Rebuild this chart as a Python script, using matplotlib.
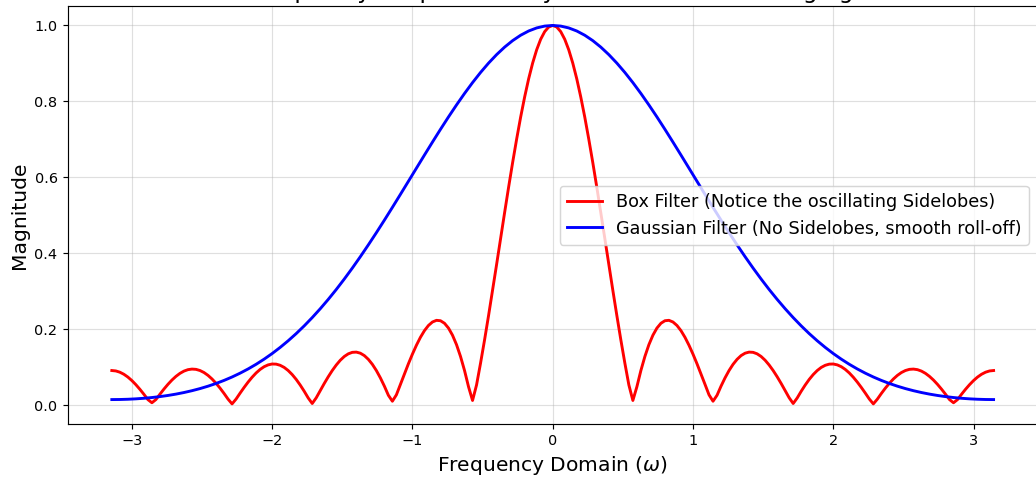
import matplotlib
matplotlib.use("Agg")
import matplotlib.pyplot as plt

# ---- Box filter magnitude response ----
omega_box = [
    -3.1416, -3.1130, -3.0845, -3.0559, -3.0274, -2.9988, -2.9702, -2.9417, -2.9131, -2.8846,
    -2.8560, -2.8274, -2.7989, -2.7703, -2.7418, -2.7132, -2.6846, -2.6561, -2.6275, -2.5990,
    -2.5704, -2.5418, -2.5133, -2.4847, -2.4562, -2.4276, -2.3990, -2.3705, -2.3419, -2.3134,
    -2.2848, -2.2562, -2.2277, -2.1991, -2.1706, -2.1420, -2.1134, -2.0849, -2.0563, -2.0278,
    -1.9992, -1.9706, -1.9421, -1.9135, -1.8850, -1.8564, -1.8278, -1.7993, -1.7707, -1.7422,
    -1.7136, -1.6850, -1.6565, -1.6279, -1.5994, -1.5708, -1.5422, -1.5137, -1.4851, -1.4566,
    -1.4280, -1.3994, -1.3709, -1.3423, -1.3138, -1.2852, -1.2566, -1.2281, -1.1995, -1.1710,
    -1.1424, -1.1138, -1.0853, -1.0567, -1.0282, -0.9996, -0.9710, -0.9425, -0.9139, -0.8854,
    -0.8568, -0.8282, -0.7997, -0.7711, -0.7426, -0.7140, -0.6854, -0.6569, -0.6283, -0.5998,
    -0.5712, -0.5426, -0.5141, -0.4855, -0.4570, -0.4284, -0.3998, -0.3713, -0.3427, -0.3142,
    -0.2856, -0.2570, -0.2285, -0.1999, -0.1714, -0.1428, -0.1142, -0.0857, -0.0571, -0.0286,
    0.0,
    0.0286, 0.0571, 0.0857, 0.1142, 0.1428, 0.1714, 0.1999, 0.2285, 0.2570, 0.2856,
    0.3142, 0.3427, 0.3713, 0.3998, 0.4284, 0.4570, 0.4855, 0.5141, 0.5426, 0.5712,
    0.5998, 0.6283, 0.6569, 0.6854, 0.7140, 0.7426, 0.7711, 0.7997, 0.8282, 0.8568,
    0.8854, 0.9139, 0.9425, 0.9710, 0.9996, 1.0282, 1.0567, 1.0853, 1.1138, 1.1424,
    1.1710, 1.1995, 1.2281, 1.2566, 1.2852, 1.3138, 1.3423, 1.3709, 1.3994, 1.4280,
    1.4566, 1.4851, 1.5137, 1.5422, 1.5708, 1.5994, 1.6279, 1.6565, 1.6850, 1.7136,
    1.7422, 1.7707, 1.7993, 1.8278, 1.8564, 1.8850, 1.9135, 1.9421, 1.9706, 1.9992,
    2.0278, 2.0563, 2.0849, 2.1134, 2.1420, 2.1706, 2.1991, 2.2277, 2.2562, 2.2848,
    2.3134, 2.3419, 2.3705, 2.3990, 2.4276, 2.4562, 2.4847, 2.5133, 2.5418, 2.5704,
    2.5990, 2.6275, 2.6561, 2.6846, 2.7132, 2.7418, 2.7703, 2.7989, 2.8274, 2.8560,
    2.8846, 2.9131, 2.9417, 2.9702, 2.9988, 3.0274, 3.0559, 3.0845, 3.1130, 3.1416,
]
box_mag = [
    0.0909, 0.08980, 0.0865, 0.08108, 0.0737, 0.06445, 0.0536, 0.04148, 0.0283, 0.01434,
    0.006, 0.01440, 0.0285, 0.04199, 0.0545, 0.06579, 0.0755, 0.08345, 0.0894, 0.09320,
    0.0947, 0.09398, 0.0909, 0.08558, 0.0781, 0.06861, 0.0573, 0.04454, 0.0305, 0.01553,
    0.003, 0.01574, 0.0313, 0.04632, 0.0604, 0.07324, 0.0845, 0.09379, 0.1010, 0.10577,
    0.1081, 0.10773, 0.1047, 0.09910, 0.0909, 0.08030, 0.0675, 0.05270, 0.0363, 0.01859,
    0.004, 0.01906, 0.0381, 0.05677, 0.0745, 0.09091, 0.1055, 0.11797, 0.1279, 0.13490,
    0.1388, 0.13942, 0.1366, 0.13025, 0.1204, 0.10727, 0.0909, 0.07163, 0.0498, 0.02574,
    0.010, 0.02690, 0.0544, 0.08187, 0.1087, 0.13413, 0.1576, 0.17842, 0.1960, 0.20961,
    0.2188, 0.22314, 0.2221, 0.21538, 0.2027, 0.18394, 0.1590, 0.12795, 0.0909, 0.04814,
    0.012, 0.05306, 0.1105, 0.17169, 0.2359, 0.30241, 0.3703, 0.43885, 0.5070, 0.57398,
    0.6388, 0.70056, 0.7585, 0.81168, 0.8595, 0.90108, 0.9360, 0.96369, 0.9838, 0.99596,
    1.0,
    0.99596, 0.9838, 0.96369, 0.9360, 0.90108, 0.8595, 0.81168, 0.7585, 0.70056, 0.6388,
    0.57398, 0.5070, 0.43885, 0.3703, 0.30241, 0.2359, 0.17169, 0.1105, 0.05306, 0.012,
    0.04814, 0.0909, 0.12795, 0.1590, 0.18394, 0.2027, 0.21538, 0.2221, 0.22314, 0.2188,
    0.20961, 0.1960, 0.17842, 0.1576, 0.13413, 0.1087, 0.08187, 0.0544, 0.02690, 0.010,
    0.02574, 0.0498, 0.07163, 0.0909, 0.10727, 0.1204, 0.13025, 0.1366, 0.13942, 0.1388,
    0.13490, 0.1279, 0.11797, 0.1055, 0.09091, 0.0745, 0.05677, 0.0381, 0.01906, 0.004,
    0.01859, 0.0363, 0.05270, 0.0675, 0.08030, 0.0909, 0.09910, 0.1047, 0.10773, 0.1081,
    0.10577, 0.1010, 0.09379, 0.0845, 0.07324, 0.0604, 0.04632, 0.0313, 0.01574, 0.003,
    0.01553, 0.0305, 0.04454, 0.0573, 0.06861, 0.0781, 0.08558, 0.0909, 0.09398, 0.0947,
    0.09320, 0.0894, 0.08345, 0.0755, 0.06579, 0.0545, 0.04199, 0.0285, 0.01440, 0.006,
    0.01434, 0.0283, 0.04148, 0.0536, 0.06445, 0.0737, 0.08108, 0.0865, 0.08980, 0.0909,
]

# ---- Gaussian filter magnitude response ----
omega_gauss = [
    -3.1416, -3.0845, -3.0274, -2.9702, -2.9131, -2.8560, -2.7989, -2.7418, -2.6846, -2.6275,
    -2.5704, -2.5133, -2.4562, -2.3990, -2.3419, -2.2848, -2.2277, -2.1706, -2.1134, -2.0563,
    -1.9992, -1.9421, -1.8850, -1.8278, -1.7707, -1.7136, -1.6565, -1.5994, -1.5422, -1.4851,
    -1.4280, -1.3709, -1.3138, -1.2566, -1.1995, -1.1424, -1.0853, -1.0282, -0.9710, -0.9139,
    -0.8568, -0.7997, -0.7426, -0.6854, -0.6283, -0.5712, -0.5141, -0.4570, -0.3998, -0.3427,
    -0.2856, -0.2285, -0.1714, -0.1142, -0.0571, 0.0,
    0.0571, 0.1142, 0.1714, 0.2285, 0.2856, 0.3427, 0.3998, 0.4570, 0.5141, 0.5712,
    0.6283, 0.6854, 0.7426, 0.7997, 0.8568, 0.9139, 0.9710, 1.0282, 1.0853, 1.1424,
    1.1995, 1.2566, 1.3138, 1.3709, 1.4280, 1.4851, 1.5422, 1.5994, 1.6565, 1.7136,
    1.7707, 1.8278, 1.8850, 1.9421, 1.9992, 2.0563, 2.1134, 2.1706, 2.2277, 2.2848,
    2.3419, 2.3990, 2.4562, 2.5133, 2.5704, 2.6275, 2.6846, 2.7418, 2.7989, 2.8560,
    2.9131, 2.9702, 3.0274, 3.0845, 3.1416,
]
gauss_mag = [
    0.01438, 0.01459, 0.01522, 0.01628, 0.01778,
    0.01975, 0.02222, 0.02521, 0.02877, 0.03294, 0.03777, 0.04331, 0.04964, 0.05680, 0.06485,
    0.07386, 0.08391, 0.09504, 0.10734, 0.12086, 0.13566, 0.15178, 0.16929, 0.18820, 0.20856,
    0.23037, 0.25363, 0.27834, 0.30445, 0.33195, 0.36074, 0.39076, 0.42190, 0.45404, 0.48703,
    0.52072, 0.55493, 0.58946, 0.62409, 0.65861, 0.69277, 0.72634, 0.75904, 0.79064, 0.82087,
    0.84948, 0.87622, 0.90086, 0.92318, 0.94296, 0.96004, 0.97424, 0.98543, 0.99350, 0.99837,
    1.0,
    0.99837, 0.99350, 0.98543, 0.97424, 0.96004, 0.94296, 0.92318, 0.90086, 0.87622, 0.84948,
    0.82087, 0.79064, 0.75904, 0.72634, 0.69277, 0.65861, 0.62409, 0.58946, 0.55493, 0.52072,
    0.48703, 0.45404, 0.42190, 0.39076, 0.36074, 0.33195, 0.30445, 0.27834, 0.25363, 0.23037,
    0.20856, 0.18820, 0.16929, 0.15178, 0.13566, 0.12086, 0.10734, 0.09504, 0.08391, 0.07386,
    0.06485, 0.05680, 0.04964, 0.04331, 0.03777, 0.03294, 0.02877, 0.02521, 0.02222, 0.01975,
    0.01778, 0.01628, 0.01522, 0.01459, 0.01438,
]

labels = [
    "Box Filter (Notice the oscillating Sidelobes)",
    "Gaussian Filter (No Sidelobes, smooth roll-off)",
]
title = "Frequency Response: Why Box Filters cause Ringing"

DPI = 104
fig = plt.figure(figsize=(1036 / DPI, 477 / DPI), dpi=DPI)
ax = fig.add_axes([0.06535, 0.1111, 0.9363, 0.8753])

ax.plot(omega_box, box_mag, color="red", linewidth=2, label=labels[0])
ax.plot(omega_gauss, gauss_mag, color="blue", linewidth=2, label=labels[1])

ax.set_xlim(-3.456, 3.456)
ax.set_ylim(-0.05, 1.05)
ax.set_title(title, fontsize=16)
ax.set_xlabel(r"Frequency Domain ($\omega$)", fontsize=14)
ax.set_ylabel("Magnitude", fontsize=14)
ax.grid(True, alpha=0.4)
ax.legend(loc="center right", fontsize=12.2)

fig.savefig("out.png", dpi=DPI)
